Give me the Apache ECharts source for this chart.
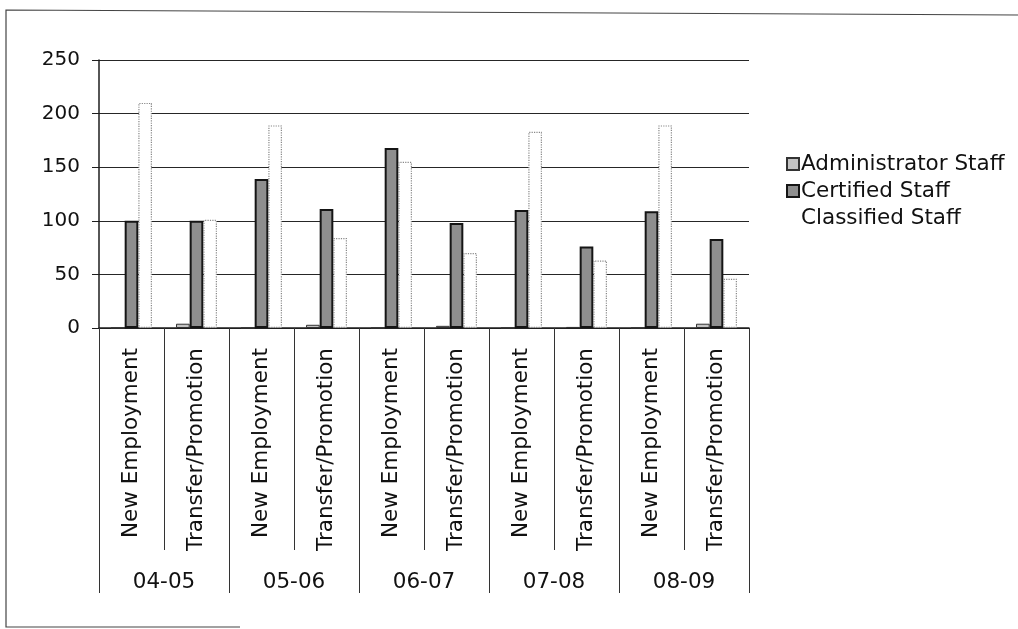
<!DOCTYPE html>
<html>
<head>
<meta charset="utf-8">
<title>Staff Hiring by Year</title>
<script src="https://cdn.jsdelivr.net/npm/echarts@6/dist/echarts.min.js"></script>
<style>
  html, body { margin: 0; padding: 0; background: #fff; }
  #chart { width: 1018px; height: 629px; }
</style>
</head>
<body>
<div id="chart"></div>
<script>
// School years and the two hiring types shown under each year
const periods = ['04-05', '05-06', '06-07', '07-08', '08-09'];
const hireTypes = ['New Employment', 'Transfer/Promotion'];

// Counts per (year, hiring type), in the order of the flattened categories
const adminStaff      = [0, 4, 0, 3, 0, 2, 0, 1, 0, 4];
const certifiedStaff  = [100, 100, 139, 111, 168, 98, 110, 76, 109, 83];
const classifiedStaff = [210, 101, 189, 84, 155, 70, 183, 63, 189, 46];

const yTicks = { min: 0, max: 250, interval: 50 };

const categories = [];
periods.forEach(() => hireTypes.forEach(t => categories.push(t)));

const FONT = 'DejaVu Sans, Verdana, sans-serif';
const INK = '#1e1e1e';

const chart = echarts.init(document.getElementById('chart'), null, { renderer: 'canvas' });

chart.setOption({
  backgroundColor: '#ffffff',
  animation: false,
  textStyle: { fontFamily: FONT, color: '#000' },
  grid: { left: 99, top: 60, width: 650, height: 268, containLabel: false },
  legend: {
    orient: 'vertical',
    left: 781,
    top: 148,
    itemWidth: 12,
    itemHeight: 12,
    itemGap: 5,
    icon: 'rect',
    textStyle: { fontFamily: FONT, fontSize: 21.5, color: '#111', padding: [0, 0, 0, -3] },
    data: [
      { name: 'Administrator Staff' },
      { name: 'Certified Staff' },
      { name: 'Classified Staff', itemStyle: { color: '#fff', borderColor: '#fff', borderWidth: 0 } }
    ]
  },
  xAxis: [
    {
      type: 'category',
      data: categories,
      position: 'bottom',
      axisLine: { show: true, lineStyle: { color: INK, width: 1.5 } },
      axisTick: { show: true, length: 222, interval: 0, lineStyle: { color: '#333', width: 1 } },
      axisLabel: {
        interval: 0, rotate: 90, margin: 20,
        fontFamily: FONT, fontSize: 21.5, color: '#111'
      },
      splitLine: { show: false }
    },
    {
      type: 'category',
      data: periods,
      position: 'bottom',
      axisLine: { show: false },
      axisTick: { show: true, length: 265, interval: 0, lineStyle: { color: '#333', width: 1 } },
      axisLabel: {
        interval: 0, margin: 243,
        fontFamily: FONT, fontSize: 21.5, color: '#111'
      },
      splitLine: { show: false }
    }
  ],
  yAxis: {
    type: 'value',
    min: yTicks.min,
    max: yTicks.max,
    interval: yTicks.interval,
    axisLine: { show: true, lineStyle: { color: INK, width: 1.5 } },
    axisTick: { show: true, length: 7, lineStyle: { color: INK } },
    axisLabel: { margin: 19, fontFamily: FONT, fontSize: 20, color: '#111' },
    splitLine: { show: true, lineStyle: { color: '#262626', width: 1.2 } }
  },
  series: [
    {
      name: 'Administrator Staff',
      type: 'bar',
      xAxisIndex: 0,
      data: adminStaff,
      barGap: '0%',
      barCategoryGap: '37%',
      itemStyle: { color: '#c4c4c4', borderColor: '#333', borderWidth: 1 }
    },
    {
      name: 'Certified Staff',
      type: 'bar',
      xAxisIndex: 0,
      data: certifiedStaff,
      barGap: '0%',
      barCategoryGap: '37%',
      itemStyle: { color: '#8e8e8e', borderColor: '#151515', borderWidth: 2 }
    },
    {
      name: 'Classified Staff',
      type: 'bar',
      xAxisIndex: 0,
      data: classifiedStaff,
      barGap: '0%',
      barCategoryGap: '37%',
      itemStyle: { color: '#ffffff', borderColor: '#888', borderWidth: 1.2, borderType: 'dotted' }
    }
  ],
  graphic: [
    {
      type: 'polyline',
      silent: true,
      shape: { points: [[1018, 15], [6, 10], [6, 627], [240, 627]] },
      style: { fill: null, stroke: '#444', lineWidth: 1.2 }
    }
  ]
});
</script>
</body>
</html>
